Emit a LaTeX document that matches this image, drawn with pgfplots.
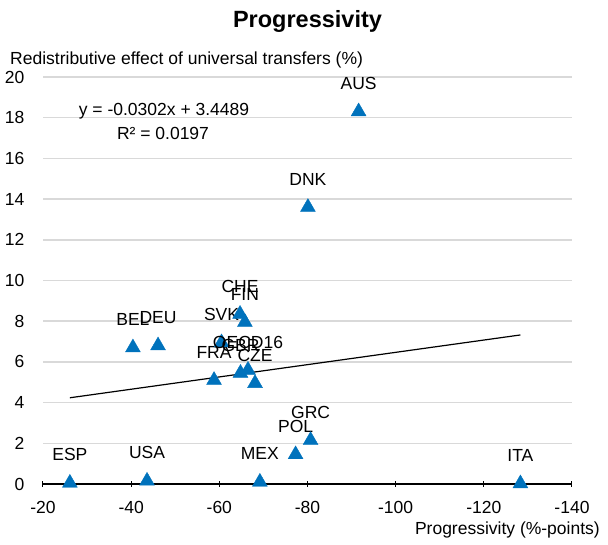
\documentclass[border=0pt]{standalone}
\usepackage{fontspec}
\setmainfont{Liberation Sans}
\usepackage{pgfplots}
\pgfplotsset{compat=1.18}
\definecolor{oecdblue}{RGB}{0,114,188}
\definecolor{gridgray}{RGB}{217,217,217}

\begin{document}
\begin{tikzpicture}[font=\fontsize{17.5}{21}\selectfont]
\useasboundingbox (-43pt,-61pt) rectangle (565pt,484pt);
\begin{axis}[
  scale only axis, width=529pt, height=407pt,
  xmin=-140, xmax=-20, ymin=0, ymax=20,
  x dir=reverse,
  xtick={-140,-120,...,-20}, ytick={0,2,...,20},
  axis x line*=bottom, axis y line*=left,
  y axis line style={draw=none},
  x axis line style={black, line width=1.2pt, -},
  ytick style={draw=none},
  xtick style={black, line width=1pt},
  tick align=center, major tick length=6pt,
  ymajorgrids, grid style={gridgray, line width=1.5pt},
  /pgf/number format/assume math mode=true,
  tick label style={font=\fontsize{17.5}{21}\selectfont},
  yticklabel style={anchor=east, xshift=-12pt},
  xticklabel style={anchor=north, yshift=-11pt},
  clip=false,
]
% countries: progressivity vs redistributive effect
\addplot[only marks, mark=triangle*, mark size=8.6pt, color=oecdblue,
  mark options={draw=oecdblue, fill=oecdblue},
  point meta=explicit symbolic,
  nodes near coords, nodes near coords align={anchor=base},
  every node near coord/.append style={yshift=22pt, text=black, inner sep=0pt,
    font=\fontsize{17.5}{21}\selectfont}]
  table[meta=name] {
x y name
-26.1 0.05 ESP
-43.6 0.15 USA
-69.2 0.10 MEX
-77.3 1.45 POL
-80.7 2.15 GRC
-128.3 0.02 ITA
-91.6 18.3 AUS
-80.1 13.6 DNK
-40.4 6.70 BEL
-46.1 6.80 DEU
-58.8 5.10 FRA
-60.5 6.95 SVK
-64.7 8.35 CHE
-65.8 7.95 FIN
-66.5 5.60 OECD16
-64.8 5.45 GBR
-68.1 4.95 CZE
};
% linear trend y = -0.0302x + 3.4489
\addplot[black, line width=1.2pt, no marks] coordinates {(-26.1,4.237) (-128.3,7.324)};
\end{axis}
\node[font=\fontsize{23.5}{28}\selectfont\bfseries, anchor=base] at (264.5pt,456pt) {Progressivity};
\node[anchor=base west, inner sep=0pt] at (-33pt,419pt) {Redistributive effect of universal transfers (\%)};
\node[anchor=base east, inner sep=0pt] at (557pt,-51pt) {Progressivity (\%-points)};
\node at (121pt,373pt) {y = -0.0302x + 3.4489};
\node at (120pt,351pt) {R² = 0.0197};
\end{tikzpicture}
\end{document}
